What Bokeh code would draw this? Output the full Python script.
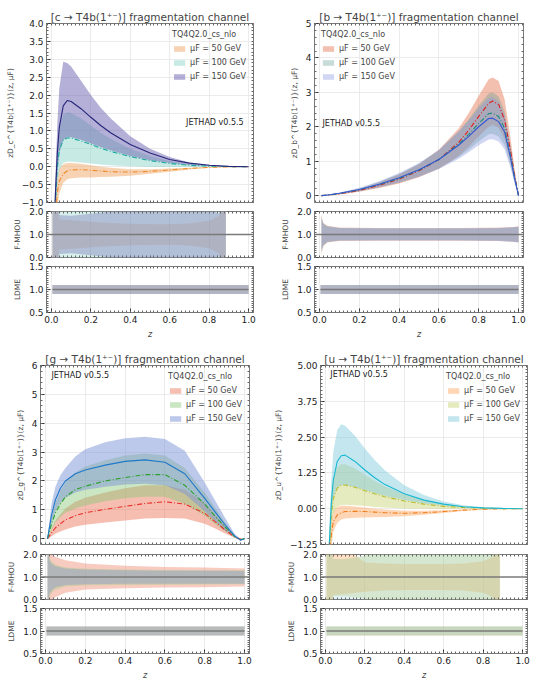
import numpy as np
from bokeh.plotting import figure
from bokeh.models import (Legend, LegendItem, Label, Span, LinearAxis,
                          FixedTicker, PrintfTickFormatter, Range1d)
from bokeh.layouts import row, column
from bokeh.embed import file_html
from bokeh.resources import INLINE

FONT = "DejaVu Sans"
SCALES = ["μF = 50 GeV", "μF = 100 GeV", "μF = 150 GeV"]
X_TICKS = [0.0, 0.2, 0.4, 0.6, 0.8, 1.0]

# ---------------- c channel (x 10^-13)
c_z = [0.01, 0.02, 0.03, 0.04, 0.06, 0.08, 0.1, 0.15, 0.2, 0.25, 0.3, 0.4, 0.5, 0.6, 0.7, 0.8, 0.9, 1.0]
c50_mid = [-3.5, -1.5, -0.7, -0.4, -0.2, -0.12, -0.09, -0.08, -0.1, -0.12, -0.14, -0.15, -0.13, -0.09, -0.05, -0.02, -0.005, 0.0]
c50_lo = [-4.0, -2.2, -1.1, -0.75, -0.45, -0.35, -0.32, -0.3, -0.3, -0.29, -0.28, -0.25, -0.2, -0.14, -0.08, -0.03, -0.01, 0.0]
c50_hi = [-2.8, -0.9, -0.3, -0.05, 0.07, 0.1, 0.1, 0.08, 0.04, 0.0, -0.03, -0.07, -0.07, -0.05, -0.03, -0.01, 0.0, 0.0]
c100_mid = [-2.8, -1.0, 0.0, 0.45, 0.75, 0.8, 0.8, 0.72, 0.62, 0.52, 0.43, 0.28, 0.17, 0.09, 0.04, 0.015, 0.003, 0.0]
c100_lo = [-3.2, -1.5, -0.5, -0.1, 0.1, 0.14, 0.14, 0.12, 0.09, 0.06, 0.04, 0.01, -0.01, -0.01, -0.005, 0.0, 0.0, 0.0]
c100_hi = [-2.3, -0.5, 0.6, 1.1, 1.45, 1.52, 1.5, 1.35, 1.15, 0.95, 0.78, 0.5, 0.3, 0.16, 0.07, 0.03, 0.008, 0.0]
c150_mid = [-2.5, -0.8, 0.4, 1.1, 1.7, 1.85, 1.82, 1.62, 1.38, 1.15, 0.95, 0.62, 0.38, 0.2, 0.1, 0.04, 0.01, 0.0]
c150_lo = [-3.0, -1.2, -0.2, 0.4, 0.75, 0.82, 0.82, 0.75, 0.65, 0.55, 0.46, 0.3, 0.18, 0.1, 0.05, 0.02, 0.005, 0.0]
c150_hi = [-2.0, -0.3, 1.2, 2.2, 2.93, 2.9, 2.8, 2.4, 2.0, 1.65, 1.35, 0.85, 0.5, 0.27, 0.12, 0.05, 0.01, 0.0]
c_rz = [0.005, 0.02, 0.04, 0.1, 0.2, 0.3, 0.4, 0.5, 0.6, 0.7, 0.8, 0.85, 0.87, 0.885]
c50_rlo = [-1, -1, 0.35, 0.38, 0.45, 0.5, 0.53, 0.55, 0.55, 0.52, 0.4, 0.2, -0.5, -1]
c50_rhi = [3, 3, 1.65, 1.62, 1.55, 1.5, 1.47, 1.45, 1.45, 1.48, 1.6, 1.8, 2.5, 3]
c100_rlo = [-1, -1, -1, -1, -1, -1, -1, -1, -1, -1, -1, -1, -1, -1]
c100_rhi = [3, 3, 3, 3, 3, 3, 3, 3, 3, 3, 3, 3, 3, 3]
c150_rlo = [-1, -1, 0.15, 0.18, 0.1, 0.0, -0.2, -1, -1, -1, -0.1, 0.05, -1, -1]
c150_rhi = [3, 3, 1.85, 1.82, 1.9, 2.0, 2.2, 3, 3, 3, 2.1, 1.9, 3, 3]

# ---------------- b channel (x 10^-10)
b_z = [0.01, 0.05, 0.1, 0.2, 0.3, 0.4, 0.5, 0.6, 0.7, 0.75, 0.8, 0.85, 0.87, 0.9, 0.93, 0.96, 0.98, 1.0]
b50_mid = [0.0, 0.02, 0.05, 0.15, 0.3, 0.48, 0.72, 1.05, 1.55, 1.9, 2.3, 2.68, 2.75, 2.65, 2.2, 1.3, 0.6, 0.0]
b50_lo = [0.0, 0.01, 0.035, 0.11, 0.22, 0.35, 0.53, 0.78, 1.15, 1.42, 1.72, 2.0, 2.06, 1.98, 1.65, 0.97, 0.44, 0.0]
b50_hi = [0.0, 0.03, 0.065, 0.19, 0.38, 0.61, 0.91, 1.33, 1.96, 2.4, 2.9, 3.38, 3.43, 3.33, 2.8, 1.66, 0.77, 0.0]
b100_mid = [0.0, 0.02, 0.06, 0.17, 0.32, 0.5, 0.74, 1.05, 1.5, 1.78, 2.1, 2.38, 2.4, 2.3, 1.95, 1.15, 0.55, 0.0]
b100_lo = [0.0, 0.012, 0.045, 0.13, 0.24, 0.375, 0.555, 0.79, 1.12, 1.33, 1.58, 1.78, 1.8, 1.72, 1.46, 0.86, 0.41, 0.0]
b100_hi = [0.0, 0.03, 0.075, 0.21, 0.4, 0.625, 0.925, 1.31, 1.87, 2.22, 2.62, 2.97, 3.0, 2.88, 2.44, 1.44, 0.69, 0.0]
b150_mid = [0.0, 0.025, 0.07, 0.18, 0.33, 0.52, 0.75, 1.05, 1.47, 1.72, 2.0, 2.24, 2.25, 2.15, 1.85, 1.1, 0.5, 0.0]
b150_lo = [0.0, 0.015, 0.05, 0.13, 0.24, 0.38, 0.55, 0.77, 1.07, 1.26, 1.46, 1.63, 1.64, 1.57, 1.35, 0.8, 0.37, 0.0]
b150_hi = [0.0, 0.035, 0.09, 0.23, 0.42, 0.66, 0.95, 1.33, 1.87, 2.18, 2.54, 2.84, 2.86, 2.73, 2.35, 1.4, 0.64, 0.0]
b_rz = [0.01, 0.015, 0.02, 0.04, 0.1, 0.3, 0.5, 0.7, 0.9, 0.97, 1.0]
b50_rlo = [0.1, 0.35, 0.5, 0.65, 0.72, 0.73, 0.73, 0.73, 0.72, 0.68, 0.65]
b50_rhi = [1.9, 1.65, 1.5, 1.38, 1.3, 1.28, 1.28, 1.28, 1.3, 1.33, 1.36]
b100_rlo = [0.2, 0.4, 0.52, 0.67, 0.74, 0.75, 0.75, 0.75, 0.74, 0.7, 0.67]
b100_rhi = [1.8, 1.6, 1.48, 1.36, 1.28, 1.26, 1.26, 1.26, 1.27, 1.3, 1.33]
b150_rlo = [0.3, 0.45, 0.55, 0.68, 0.74, 0.74, 0.74, 0.74, 0.72, 0.68, 0.65]
b150_rhi = [1.7, 1.55, 1.45, 1.35, 1.28, 1.27, 1.27, 1.27, 1.28, 1.32, 1.35]

# ---------------- g channel (x 10^-12)
g_z = [0.01, 0.02, 0.03, 0.05, 0.075, 0.1, 0.15, 0.2, 0.3, 0.4, 0.5, 0.6, 0.7, 0.8, 0.85, 0.9, 0.95, 0.98, 1.0]
g50_mid = [0.0, 0.1, 0.2, 0.38, 0.52, 0.65, 0.8, 0.9, 1.02, 1.12, 1.22, 1.28, 1.2, 0.88, 0.6, 0.32, 0.06, -0.01, 0.0]
g50_lo = [0.0, 0.03, 0.08, 0.17, 0.25, 0.32, 0.42, 0.48, 0.56, 0.63, 0.7, 0.72, 0.7, 0.52, 0.36, 0.19, 0.03, -0.02, 0.0]
g50_hi = [0.0, 0.18, 0.35, 0.62, 0.85, 1.05, 1.28, 1.42, 1.6, 1.75, 1.85, 1.85, 1.7, 1.25, 0.85, 0.45, 0.09, -0.01, 0.0]
g100_mid = [0.0, 0.25, 0.5, 0.9, 1.2, 1.45, 1.7, 1.82, 2.0, 2.12, 2.22, 2.22, 1.85, 1.2, 0.8, 0.42, 0.08, -0.03, 0.0]
g100_lo = [0.0, 0.15, 0.3, 0.55, 0.75, 0.9, 1.05, 1.15, 1.3, 1.4, 1.45, 1.45, 1.2, 0.8, 0.52, 0.27, 0.05, -0.04, 0.0]
g100_hi = [0.0, 0.35, 0.7, 1.25, 1.65, 1.95, 2.3, 2.5, 2.72, 2.88, 2.95, 2.88, 2.45, 1.6, 1.1, 0.58, 0.12, -0.02, 0.0]
g150_mid = [0.0, 0.4, 0.8, 1.35, 1.75, 2.0, 2.25, 2.38, 2.55, 2.68, 2.73, 2.65, 2.25, 1.4, 0.95, 0.5, 0.1, -0.05, 0.0]
g150_lo = [0.0, 0.25, 0.55, 0.95, 1.25, 1.42, 1.6, 1.7, 1.8, 1.88, 1.9, 1.85, 1.55, 0.95, 0.62, 0.3, 0.05, -0.08, 0.0]
g150_hi = [0.0, 0.6, 1.2, 1.8, 2.2, 2.45, 2.85, 3.1, 3.34, 3.48, 3.53, 3.45, 3.05, 1.95, 1.35, 0.75, 0.17, -0.02, 0.0]
g_rz = [0.01, 0.015, 0.02, 0.03, 0.05, 0.1, 0.2, 0.4, 0.6, 0.8, 1.0]
g50_rlo = [-0.5, -0.5, -0.2, 0.0, 0.1, 0.3, 0.45, 0.5, 0.53, 0.55, 0.58]
g50_rhi = [2.5, 2.5, 2.2, 2.0, 1.9, 1.75, 1.6, 1.5, 1.45, 1.42, 1.38]
g100_rlo = [-0.5, -0.2, 0.1, 0.3, 0.45, 0.58, 0.63, 0.65, 0.66, 0.67, 0.68]
g100_rhi = [2.5, 2.2, 1.9, 1.7, 1.55, 1.42, 1.37, 1.33, 1.31, 1.3, 1.3]
g150_rlo = [-0.5, 0.0, 0.25, 0.4, 0.55, 0.65, 0.68, 0.7, 0.7, 0.7, 0.7]
g150_rhi = [2.5, 2.0, 1.75, 1.6, 1.48, 1.38, 1.33, 1.3, 1.28, 1.28, 1.27]

# ---------------- u channel (x 10^-13)
u_z = [0.01, 0.02, 0.03, 0.04, 0.06, 0.08, 0.1, 0.15, 0.2, 0.25, 0.3, 0.4, 0.5, 0.6, 0.7, 0.8, 0.9, 1.0]
u50_mid = [-3.8, -1.8, -0.9, -0.45, -0.22, -0.14, -0.1, -0.09, -0.1, -0.12, -0.14, -0.16, -0.14, -0.1, -0.05, -0.02, -0.005, 0.0]
u50_lo = [-4.5, -2.5, -1.3, -0.8, -0.5, -0.38, -0.34, -0.32, -0.31, -0.3, -0.29, -0.26, -0.21, -0.15, -0.08, -0.03, -0.01, 0.0]
u50_hi = [-3.0, -1.1, -0.4, -0.08, 0.06, 0.1, 0.1, 0.08, 0.04, 0.0, -0.03, -0.07, -0.07, -0.05, -0.03, -0.01, 0.0, 0.0]
u100_mid = [-3.2, -1.4, -0.2, 0.35, 0.72, 0.82, 0.83, 0.75, 0.63, 0.52, 0.42, 0.27, 0.16, 0.08, 0.04, 0.015, 0.003, 0.0]
u100_lo = [-3.6, -1.8, -0.6, -0.15, 0.08, 0.13, 0.14, 0.12, 0.09, 0.06, 0.04, 0.01, 0.0, -0.01, -0.005, 0.0, 0.0, 0.0]
u100_hi = [-2.7, -0.9, 0.5, 1.05, 1.45, 1.55, 1.55, 1.4, 1.18, 0.97, 0.78, 0.5, 0.3, 0.16, 0.07, 0.03, 0.008, 0.0]
u150_mid = [-3.0, -1.2, 0.2, 1.0, 1.65, 1.85, 1.87, 1.65, 1.35, 1.08, 0.85, 0.52, 0.3, 0.16, 0.07, 0.03, 0.01, 0.0]
u150_lo = [-3.5, -1.8, -0.3, 0.4, 0.75, 0.83, 0.83, 0.76, 0.65, 0.55, 0.45, 0.3, 0.18, 0.1, 0.05, 0.02, 0.005, 0.0]
u150_hi = [-2.5, -0.6, 1.0, 2.0, 2.75, 2.95, 2.9, 2.55, 2.1, 1.7, 1.35, 0.82, 0.48, 0.25, 0.12, 0.05, 0.01, 0.0]
u_rz = [0.005, 0.02, 0.04, 0.1, 0.2, 0.3, 0.4, 0.5, 0.6, 0.7, 0.8, 0.85, 0.87, 0.885]
u50_rlo = [-1, -1, 0.2, 0.25, 0.35, 0.4, 0.42, 0.42, 0.42, 0.4, 0.3, 0.1, -1, -1]
u50_rhi = [3, 3, 2.5, 2.3, 1.65, 1.6, 1.58, 1.58, 1.58, 1.6, 1.7, 1.9, 3, 3]
u100_rlo = [-1, -1, 0.15, 0.15, 0.05, -1, -1, -1, -1, -1, -1, -1, -1, -1]
u100_rhi = [3, 3, 1.8, 1.8, 1.95, 3, 3, 3, 3, 3, 3, 3, 3, 3]
u150_rlo = [-1, -1, -1, -1, -1, -1, -1, -1, -1, -1, -1, -1, -1, -1]
u150_rhi = [3, 3, 1.8, 1.8, 1.95, 3, 3, 3, 3, 3, 3, 3, 3, 3]

# LDME ratio bands (same for every channel)
ldme_z = [0.005, 1.0]
ldme_lo = [0.9, 0.9]
ldme_hi = [1.1, 1.1]
ldme_mid = [1.0, 1.0]


def setup_axes(p, yticks, yminor, yfmt, yover, show_x, ylabel, xlabel=None):
    p.add_layout(LinearAxis(), "above")
    p.add_layout(LinearAxis(), "right")
    xminor = list(np.round(np.arange(-0.02, 1.03, 0.02), 3))
    xt = FixedTicker(ticks=X_TICKS, minor_ticks=xminor)
    yt = FixedTicker(ticks=yticks, minor_ticks=yminor)
    xt_nolab = FixedTicker(ticks=[], minor_ticks=sorted(set(xminor) | set(X_TICKS)))
    yt_nolab = FixedTicker(ticks=[], minor_ticks=sorted(set(yminor) | set(yticks)))
    for ax in p.below + p.above:
        ax.ticker = xt
        ax.formatter = PrintfTickFormatter(format="%.1f")
    for ax in p.left + p.right:
        ax.ticker = yt
        ax.formatter = PrintfTickFormatter(format=yfmt)
        ax.major_label_overrides = yover
    for ax in p.below + p.above + p.left + p.right:
        ax.major_tick_in = 4
        ax.major_tick_out = 0
        ax.minor_tick_in = 2
        ax.minor_tick_out = 0
        ax.axis_line_color = None
        ax.major_tick_line_color = "#333333"
        ax.minor_tick_line_color = "#666666"
        ax.major_label_text_font = FONT
        ax.major_label_text_font_size = "9px"
        ax.major_label_text_color = "#222222"
        ax.major_label_standoff = 3
    for ax in p.above + ([] if show_x else p.below):
        ax.ticker = xt_nolab
        ax.major_label_standoff = 0
    for ax in p.right:
        ax.ticker = yt_nolab
        ax.major_label_standoff = 0
    p.xgrid.ticker = FixedTicker(ticks=X_TICKS)
    p.ygrid.ticker = FixedTicker(ticks=yticks)
    ly = p.left[0]
    ly.axis_label = ylabel
    ly.axis_label_text_font = FONT
    ly.axis_label_text_font_size = "7.5px"
    ly.axis_label_text_font_style = "normal"
    ly.axis_label_standoff = 4
    if xlabel:
        lx = p.below[0]
        lx.axis_label = xlabel
        lx.axis_label_text_font = FONT
        lx.axis_label_text_font_size = "8px"
        lx.axis_label_text_font_style = "italic"
        lx.axis_label_standoff = 4
    p.outline_line_color = "#555555"
    p.outline_line_width = 0.8
    for g in (p.xgrid, p.ygrid):
        g.grid_line_color = "#e6e6e6"
        g.grid_line_width = 0.8


def new_fig(fw, fh, L, R, T, B, yr):
    return figure(frame_width=fw, frame_height=fh,
                  x_range=Range1d(-0.025, 1.025), y_range=Range1d(*yr),
                  min_border_left=L, min_border_right=R, min_border_top=T, min_border_bottom=B,
                  output_backend="svg", toolbar_location=None,
                  background_fill_color="white", border_fill_color="white")


def panel(cfg, geo):
    L, FW, R, (mT, mH, mB), (fT, fH, fB), (lT, lH, lB) = geo
    # ---- main
    p = new_fig(FW, mH, L, R, mT, mB, cfg["yrange"])
    p.title.text = cfg["title"]
    p.title.text_font = FONT
    p.title.text_font_size = "10.5px"
    p.title.text_font_style = "normal"
    p.title.align = "center"
    p.title.standoff = 2
    setup_axes(p, cfg["yticks"], cfg["yminor"], cfg["yfmt"], cfg["yover"], False, cfg["ylabel"])
    bands = []
    for (lo, hi), col, a in zip(cfg["bands"], cfg["bcolors"], cfg["balpha"]):
        bands.append(p.varea(x=cfg["z"], y1=lo, y2=hi, fill_color=col, fill_alpha=a))
    for mid, col, dash in zip(cfg["mids"], cfg["lcolors"], cfg["ldash"]):
        p.line(x=cfg["z"], y=mid, line_color=col, line_width=1.1, line_dash=dash)
    leg = Legend(items=[LegendItem(label=s, renderers=[r]) for s, r in zip(SCALES, bands)],
                 location=cfg["legloc"], title="TQ4Q2.0_cs_nlo",
                 background_fill_alpha=0, border_line_alpha=0,
                 label_text_font=FONT, label_text_font_size="8px",
                 title_text_font=FONT, title_text_font_size="8px", title_text_font_style="normal",
                 glyph_width=14, glyph_height=7, label_height=9, spacing=5,
                 padding=2, margin=5, label_standoff=4, title_standoff=5)
    p.add_layout(leg)
    p.add_layout(Label(x=cfg["jet"][0], y=cfg["jet"][1], text="JETHAD v0.5.5",
                       text_font=FONT, text_font_size="8px", text_align=cfg["jet"][2],
                       text_baseline="middle", text_color="#222222"))
    p.add_layout(Label(x=-0.025, y=cfg["yrange"][1], y_offset=1, text=cfg["mult"],
                       text_font=FONT, text_font_size="5px", text_baseline="bottom",
                       text_color="#444444"))
    # ---- F-MHOU
    f = new_fig(FW, fH, L, R, fT, fB, (0.0, 2.0))
    setup_axes(f, [0.0, 1.0, 2.0], list(np.round(np.arange(0, 2.01, 0.1), 2)), "%.1f", {}, False, "F-MHOU")
    f.ygrid.visible = False
    for (lo, hi), col, a in zip(cfg["rbands"], cfg["bcolors"], cfg["ralpha"]):
        f.varea(x=cfg["rz"], y1=lo, y2=hi, fill_color=col, fill_alpha=a)
    f.add_layout(Span(location=1.0, dimension="width", line_color="#7a7a7a", line_width=1.3))
    # ---- LDME
    l = new_fig(FW, lH, L, R, lT, lB, (0.5, 1.5))
    setup_axes(l, [0.5, 1.0, 1.5], list(np.round(np.arange(0.5, 1.51, 0.05), 2)), "%.1f", {}, True, "LDME", "z")
    l.ygrid.visible = False
    for col in cfg["bcolors"]:
        l.varea(x=ldme_z, y1=ldme_lo, y2=ldme_hi, fill_color=col, fill_alpha=0.33)
    l.line(x=ldme_z, y=ldme_mid, line_color="#7a7a7a", line_width=1.3)
    return column(p, f, l)


DASHDOT = "5 2 1 2"

cfg_c = dict(title="[c → T4b(1⁺⁻)] fragmentation channel", mult="×10⁻¹³",
             ylabel="zD_c^{T4b(1⁺⁻)}(z, μF)", z=c_z, yrange=(-1.0, 4.0),
             yticks=[-1.0, -0.5, 0.0, 0.5, 1.0, 1.5, 2.0, 2.5, 3.0, 3.5, 4.0],
             yminor=list(np.round(np.arange(-1.0, 4.01, 0.1), 2)), yfmt="%.1f",
             yover={-1.0: "−1.0", -0.5: "−0.5"},
             bands=[(c50_lo, c50_hi), (c100_lo, c100_hi), (c150_lo, c150_hi)],
             mids=[c50_mid, c100_mid, c150_mid],
             bcolors=["#f0a868", "#8fd6cc", "#6a62b0"], balpha=[0.5, 0.5, 0.5],
             ralpha=[0.35, 0.35, 0.35],
             lcolors=["#ee8a2a", "#19a89c", "#26267a"], ldash=[DASHDOT, DASHDOT, "solid"],
             legloc="top_right", jet=(0.975, 1.23, "right"),
             rz=c_rz, rbands=[(c50_rlo, c50_rhi), (c100_rlo, c100_rhi), (c150_rlo, c150_rhi)])

cfg_b = dict(title="[b → T4b(1⁺⁻)] fragmentation channel", mult="×10⁻¹⁰",
             ylabel="zD_b^{T4b(1⁺⁻)}(z, μF)", z=b_z, yrange=(-0.2, 5.0),
             yticks=[0, 1, 2, 3, 4, 5], yminor=list(np.round(np.arange(0, 5.01, 0.2), 2)),
             yfmt="%d", yover={},
             bands=[(b50_lo, b50_hi), (b100_lo, b100_hi), (b150_lo, b150_hi)],
             mids=[b50_mid, b100_mid, b150_mid],
             bcolors=["#e8825f", "#5f9a90", "#8d9be0"], balpha=[0.5, 0.35, 0.4],
             ralpha=[0.4, 0.35, 0.4],
             lcolors=["#e0201c", "#1b8a7a", "#3558d0"], ldash=[DASHDOT, DASHDOT, "solid"],
             legloc="top_left", jet=(0.015, 2.1, "left"),
             rz=b_rz, rbands=[(b50_rlo, b50_rhi), (b100_rlo, b100_rhi), (b150_rlo, b150_rhi)])

cfg_g = dict(title="[g → T4b(1⁺⁻)] fragmentation channel", mult="×10⁻¹²",
             ylabel="zD_g^{T4b(1⁺⁻)}(z, μF)", z=g_z, yrange=(-0.2, 6.0),
             yticks=[0, 1, 2, 3, 4, 5, 6], yminor=list(np.round(np.arange(0, 6.01, 0.2), 2)),
             yfmt="%d", yover={},
             bands=[(g50_lo, g50_hi), (g100_lo, g100_hi), (g150_lo, g150_hi)],
             mids=[g50_mid, g100_mid, g150_mid],
             bcolors=["#ee7d64", "#8cc87a", "#7b93d6"], balpha=[0.5, 0.45, 0.5],
             ralpha=[0.4, 0.35, 0.35],
             lcolors=["#e8302a", "#2ca02c", "#1f78c8"], ldash=[DASHDOT, DASHDOT, "solid"],
             legloc="top_right", jet=(0.03, 5.67, "left"),
             rz=g_rz, rbands=[(g50_rlo, g50_rhi), (g100_rlo, g100_rhi), (g150_rlo, g150_rhi)])

cfg_u = dict(title="[u → T4b(1⁺⁻)] fragmentation channel", mult="×10⁻¹³",
             ylabel="zD_u^{T4b(1⁺⁻)}(z, μF)", z=u_z, yrange=(-1.25, 5.0),
             yticks=[-1.25, 0.0, 1.25, 2.5, 3.75, 5.0],
             yminor=list(np.round(np.arange(-1.25, 5.01, 0.125), 3)), yfmt="%.2f",
             yover={-1.25: "−1.25"},
             bands=[(u50_lo, u50_hi), (u100_lo, u100_hi), (u150_lo, u150_hi)],
             mids=[u50_mid, u100_mid, u150_mid],
             bcolors=["#fdae6b", "#c8d070", "#7cc8dc"], balpha=[0.5, 0.45, 0.45],
             ralpha=[0.4, 0.35, 0.2],
             lcolors=["#f07d1a", "#b8bc2a", "#17b8d0"], ldash=[DASHDOT, DASHDOT, "solid"],
             legloc="top_right", jet=(0.025, 4.68, "left"),
             rz=u_rz, rbands=[(u50_rlo, u50_rhi), (u100_rlo, u100_rhi), (u150_rlo, u150_rhi)])

top_geo = ((23, 179, 5), (4, 46, 5), (4, 46, 28))
bot_geo = ((24, 179, 5), (5, 45, 5), (4, 45, 27))

tl = panel(cfg_c, (46, 207, 14) + top_geo)
tr = panel(cfg_b, (47, 209, 11) + top_geo)
bl = panel(cfg_g, (40, 209, 18) + bot_geo)
br = panel(cfg_u, (53, 207, 7) + bot_geo)

layout = column(row(tl, tr), row(bl, br))

with open("out.html", "w") as fh:
    fh.write(file_html(layout, INLINE))
